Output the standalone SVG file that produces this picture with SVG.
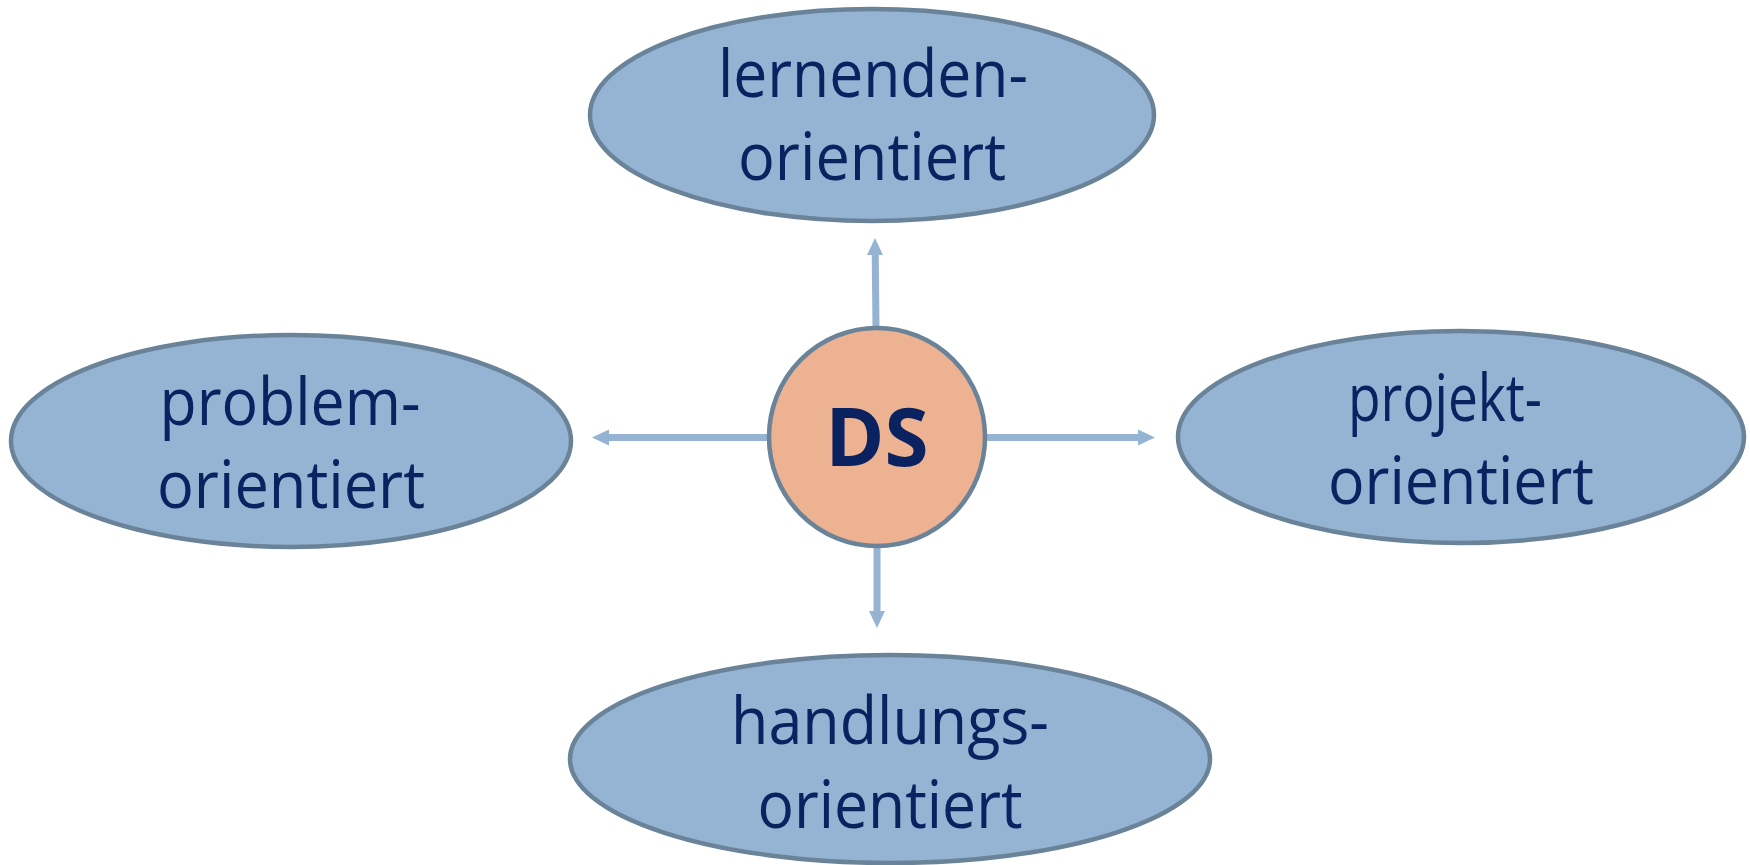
<svg xmlns="http://www.w3.org/2000/svg" width="1750" height="865" viewBox="0 0 1750 865">
<defs>
<style>
.oval{fill:#95B3D3;stroke:#6A8399;stroke-width:4.5}
.hub{fill:#ECB291;stroke:#6A8399;stroke-width:4.5}
.lbl{font-family:"Open Sans","Noto Sans","Liberation Sans",sans-serif;font-size:66px;fill:#0A2260;text-anchor:middle}
.ds{font-family:"Open Sans","Noto Sans","Liberation Sans",sans-serif;font-size:80px;font-weight:bold;fill:#0A2260;text-anchor:middle}
.con{fill:none;stroke:#95B3D3;stroke-width:7px}
.head{fill:#95B3D3;stroke:none}
</style>
</defs>
<rect width="1750" height="865" fill="#FFFFFF"/>
<g id="connectors">
<line class="con" stroke-width="7" x1="876" y1="328" x2="875.2" y2="252"/>
<path class="head" d="M875,238 L883,255 L867,255 Z"/>
<line class="con" stroke-width="7" x1="768" y1="437.5" x2="606" y2="437.5"/>
<path class="head" d="M592,437.5 L609,429.5 L609,445.5 Z"/>
<line class="con" stroke-width="7" x1="986" y1="437.5" x2="1141" y2="437.5"/>
<path class="head" d="M1155,437.5 L1138,429.5 L1138,445.5 Z"/>
<line class="con" stroke-width="7" x1="877" y1="546" x2="877" y2="614"/>
<path class="head" d="M877,628 L869,611 L885,611 Z"/>
</g>
<g id="node-lernenden">
<ellipse class="oval" cx="872" cy="115" rx="282" ry="106"/>
<text class="lbl" x="873" y="97" textLength="310" lengthAdjust="spacingAndGlyphs">lernenden-</text>
<text class="lbl" x="872" y="180" textLength="268" lengthAdjust="spacingAndGlyphs">orientiert</text>
</g>
<g id="node-problem">
<ellipse class="oval" cx="291" cy="441" rx="280" ry="106"/>
<text class="lbl" x="290" y="425" textLength="261" lengthAdjust="spacingAndGlyphs">problem-</text>
<text class="lbl" x="291" y="508" textLength="268" lengthAdjust="spacingAndGlyphs">orientiert</text>
</g>
<g id="node-projekt">
<ellipse class="oval" cx="1461" cy="437" rx="283" ry="106"/>
<text class="lbl" x="1445" y="421" textLength="194" lengthAdjust="spacingAndGlyphs">projekt-</text>
<text class="lbl" x="1461" y="504" textLength="266" lengthAdjust="spacingAndGlyphs">orientiert</text>
</g>
<g id="node-handlungs">
<ellipse class="oval" cx="890" cy="759" rx="320" ry="104"/>
<text class="lbl" x="890" y="744" textLength="318" lengthAdjust="spacingAndGlyphs">handlungs-</text>
<text class="lbl" x="890" y="828" textLength="265" lengthAdjust="spacingAndGlyphs">orientiert</text>
</g>
<g id="node-ds">
<ellipse class="hub" cx="877" cy="437" rx="108" ry="109"/>
<text class="ds" x="877" y="466">DS</text>
</g>
</svg>
